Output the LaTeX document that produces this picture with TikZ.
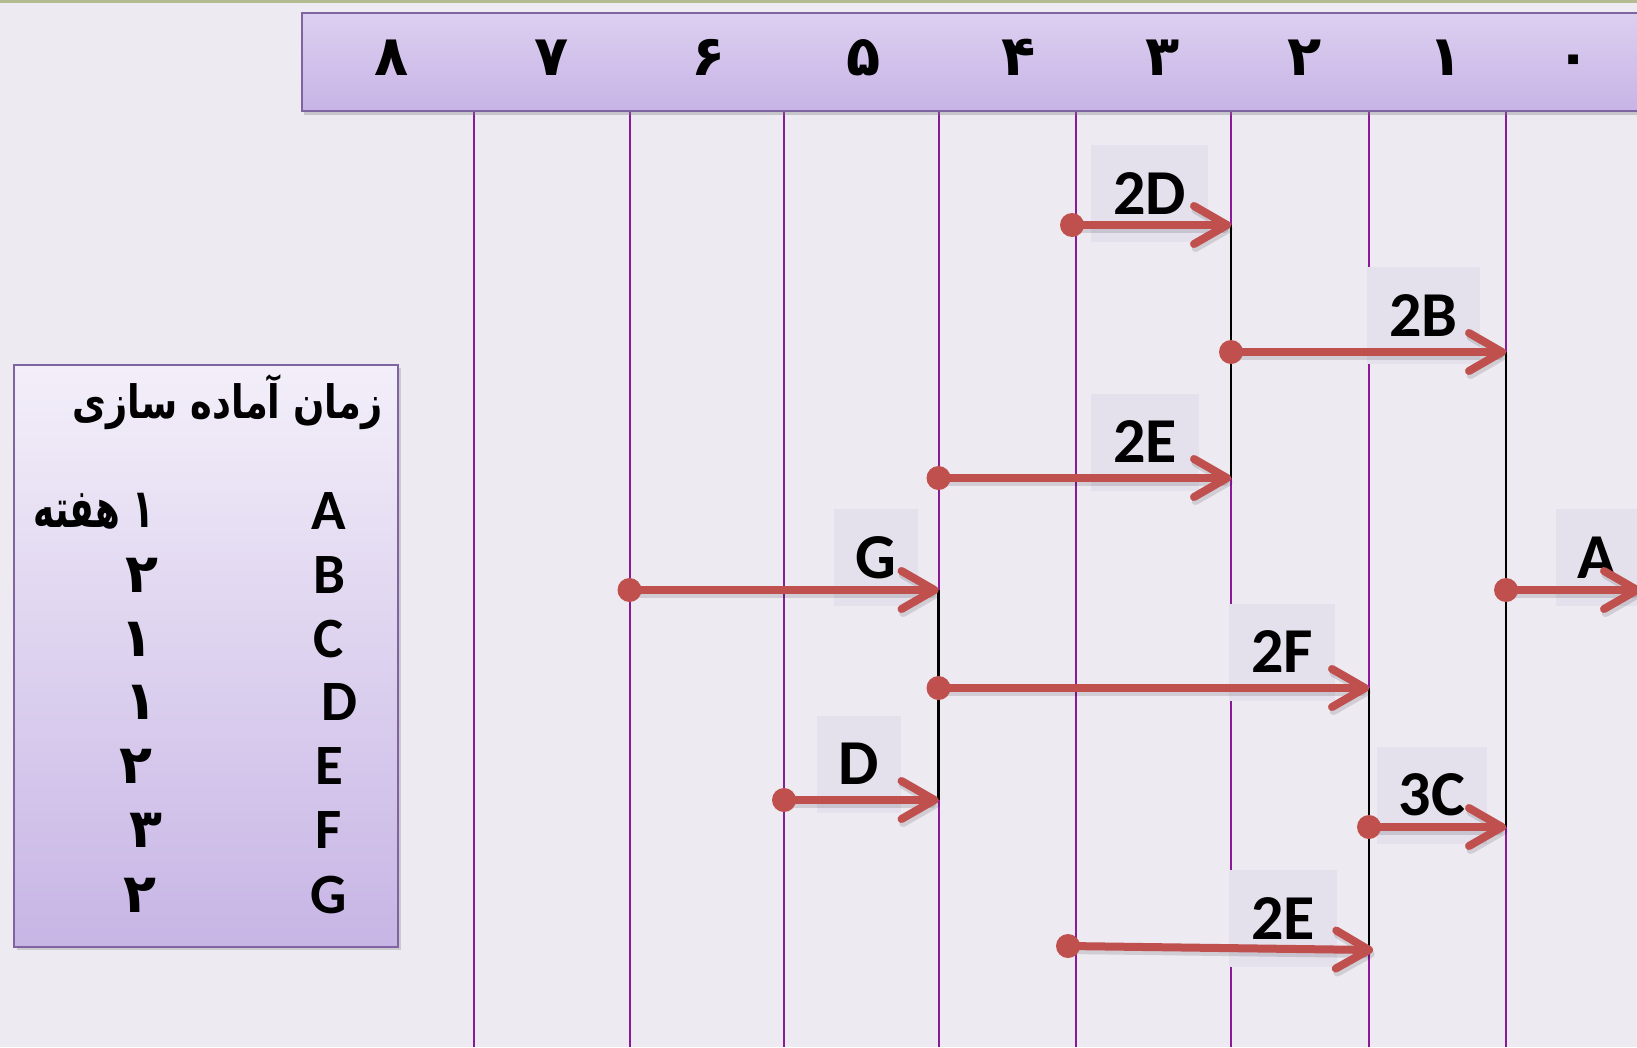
\documentclass[tikz,border=0pt]{standalone}
\usepackage{fontspec}
\setmainfont{Carlito}
\newfontfamily\farsifont[Script=Arabic]{DejaVu Sans}
\TeXXeTstate=1
\usetikzlibrary{arrows.meta,shadows}

\definecolor{pagebg}{HTML}{EDEAF2}
\definecolor{stripgreen}{HTML}{B3BB93}
\definecolor{barborder}{HTML}{7F64A2}
\definecolor{bartop}{HTML}{DCCFF0}
\definecolor{barbottom}{HTML}{C7B4E6}
\definecolor{gridpurple}{HTML}{8B1A9B}
\definecolor{taskred}{HTML}{C0504D}
\definecolor{tagfill}{HTML}{E4E0EC}
\definecolor{boxtop}{HTML}{F3EFF9}
\definecolor{boxbottom}{HTML}{C7B5E5}

\tikzset{
  headbar/.style={draw=barborder, line width=2pt, top color=bartop, bottom color=barbottom,
    drop shadow={shadow xshift=2pt, shadow yshift=-4pt, opacity=0.35}},
  legendbox/.style={draw=barborder, line width=2pt, top color=boxtop, bottom color=boxbottom,
    drop shadow={shadow xshift=3pt, shadow yshift=-3pt, opacity=0.3}},
  gridline/.style={gridpurple, line width=2pt},
  pathline/.style={black, line width=2.2pt},
  task/.style={taskred, line width=8pt, line cap=round,
    -{Straight Barb[length=33pt, width=38pt, round]}},
  taskshadow/.style={task, draw=black, opacity=0.12, transform canvas={shift={(1.5pt,-4pt)}}},
  tag/.style={fill=tagfill, minimum height=97pt, inner xsep=22pt, inner ysep=0pt,
    font=\bfseries\fontsize{64}{70}\selectfont},
  ticklabel/.style={anchor=base, font=\farsifont\bfseries\fontsize{56}{60}\selectfont},
  farsinum/.style={font=\farsifont\bfseries\fontsize{54}{60}\selectfont},
  legendletter/.style={font=\bfseries\fontsize{57}{64}\selectfont}
}

\begin{document}
\begin{tikzpicture}[x=1pt, y=-1pt]
    % Page background and top strip
    \fill[pagebg] (0,0) rectangle (1637,1047);
    \useasboundingbox (0,0) rectangle (1637,1047);
    \fill[stripgreen] (0,0) rectangle (1637,2.5);

    % Week grid lines
    \foreach \x in {474,629.5,784,938.5,1076,1231,1369,1506}
        \draw[gridline] (\x,110) -- (\x,1047);

    % Time axis bar
    \node[headbar, anchor=north west, minimum width=1400pt, minimum height=98pt, inner sep=0pt] (axis) at (301,12) {};
    \foreach \d/\x/\p in {8/392/۸, 7/552/۷, 6/709/۶, 5/864/۵, 4/1019/۴, 3/1163/۳, 2/1305/۲, 1/1446/۱, 0/1574/۰}
        \node[ticklabel] (tick\d) at (\x,75) {\beginR\p\endR};

    % Set-up times
    \node[legendbox, anchor=north west, minimum width=384pt, minimum height=582pt, inner sep=0pt] (legend) at (12.5,364) {};
    \node[anchor=east, font=\farsifont\bfseries\fontsize{46}{52}\selectfont] (title) at (386,402)
        {\scalebox{0.8}[1]{\beginR زمان آماده سازی\endR}};
    \node[legendletter] (keyA) at (329,511.5) {A};
    \node[farsinum, anchor=east] (valA) at (158,511.5) {\scalebox{0.66}[1]{\beginR ۱ هفته\endR}};
    \foreach \l/\y/\xl/\xn/\p in {B/575/329/142/۲, C/639/329/137/۱, D/702.5/339/141/۱, E/766/329/136/۲, F/830/329/146/۳, G/895/329/140/۲}{
        \node[legendletter] (key\l) at (\xl,\y) {\l};
        \node[farsinum] (val\l) at (\xn,\y) {\beginR\p\endR};
    }

    % Task labels
    \node[tag] (tag2D) at (1149.5,193.5) {2D};
    \node[tag] (tag2B) at (1423.5,315.5) {2B};
    \node[tag] (tag2E) at (1145,442) {2E};
    \node[tag] (tagG) at (876,557.5) {G};
    \node[tag] (tagA) at (1597,557.5) {A};
    \node[tag] (tag2F) at (1282,652) {2F};
    \node[tag] (tagD) at (859,764) {D};
    \node[tag] (tag3C) at (1432,795) {3C};
    \node[tag] (tag2Eb) at (1283,918.5) {2E};

    % Start and end of each task
    \foreach \name/\xa/\ya/\xb/\yb in {2D/1072/225/1231/225, 2B/1231/352/1506/352, 2E/938.5/478/1231/478,
        G/629.5/590/938.5/590, A/1506/590/1641/590, 2F/938.5/688/1369/688, D/784/800/938.5/800,
        3C/1369/827/1506/827, 2Eb/1068/946/1373/950}{
        \coordinate (\name s) at (\xa,\ya);
        \coordinate (\name e) at (\xb,\yb);
    }

    % Links between finishing tasks
    \draw[pathline] (2De) -- (2Ee);
    \draw[pathline] (2Be) -- (3Ce);
    \draw[pathline] (Ge) -- (De);
    \draw[pathline] (2Fe) -- (2Fe |- 2Ebe);

    % Task arrows
    \foreach \name in {2D,2B,2E,G,A,2F,D,3C,2Eb}{
        \draw[taskshadow] (\name s) -- (\name e);
        \draw[task] (\name s) -- (\name e);
        \fill[taskred] (\name s) circle (12pt);
    }
\end{tikzpicture}
\end{document}
